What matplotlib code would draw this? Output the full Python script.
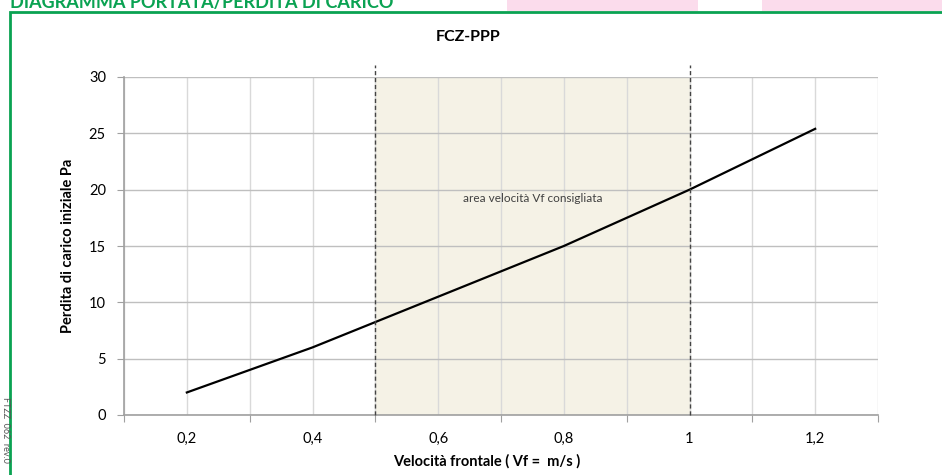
import matplotlib.pyplot as plt
from matplotlib.ticker import FixedLocator, NullFormatter
from matplotlib.patches import Rectangle

# data
velocita = [0.2, 0.4, 0.6, 0.8, 1.0, 1.2]
perdita = [2.0, 6.0, 10.5, 15.0, 20.0, 25.4]
x_labels = ["0,2", "0,4", "0,6", "0,8", "1", "1,2"]
y_ticks = [0, 5, 10, 15, 20, 25, 30]
vf_min, vf_max = 0.5, 1.0

plt.rcParams['font.family'] = ['Lato', 'DejaVu Sans']

fig = plt.figure(figsize=(9.42, 4.75), dpi=100)
W, H = 942.0, 475.0

# page decorations around the chart
fig.patches.append(Rectangle((507 / W, 1 - 11 / H), 191 / W, 11 / H, transform=fig.transFigure,
                             facecolor='#fbdcec', edgecolor='none'))
fig.patches.append(Rectangle((762 / W, 1 - 11 / H), 180 / W, 11 / H, transform=fig.transFigure,
                             facecolor='#fbdcec', edgecolor='none'))
fig.patches.append(Rectangle((10 / W, -0.05), 1.0, 1 - 12 / H + 0.05, transform=fig.transFigure,
                             facecolor='none', edgecolor='#0aa252', linewidth=2))
fig.text(10 / W, 1 - 8 / H, "DIAGRAMMA PORTATA/PERDITA DI CARICO", color='#0aa252',
         fontsize=13, fontweight='bold', ha='left', va='baseline')
fig.text(1 / W, 1 - 430 / H, "FTZZ  062  rev.0", rotation=270, fontsize=6.5, color='#555555',
         ha='left', va='center')

ax = fig.add_axes([124 / W, 60 / H, 754 / W, 338 / H])

ax.axvspan(vf_min, vf_max, color='#f5f2e6', zorder=0)
ax.plot(velocita, perdita, color='black', linewidth=1.6, zorder=3)
for v in (vf_min, vf_max):
    ax.plot([v, v], [0, 31.1], color='#444444', linestyle=(0, (3, 2)), linewidth=1,
            clip_on=False, zorder=4)
ax.text(0.75, 19.2, "area velocità Vf consigliata", fontsize=8.5, color='#404040',
        ha='center', va='center')

ax.set_xlim(0.1, 1.3)
ax.set_ylim(0, 30)
ax.set_yticks(y_ticks)
ax.xaxis.set_major_locator(FixedLocator([0.1, 0.3, 0.5, 0.7, 0.9, 1.1, 1.3]))
ax.xaxis.set_major_formatter(NullFormatter())
ax.xaxis.set_minor_locator(FixedLocator(velocita))
ax.set_xticklabels(x_labels, minor=True)
ax.tick_params(axis='x', which='minor', length=0, pad=12, labelsize=10.5)
ax.tick_params(axis='x', which='major', length=5, color='#a0a0a0')
ax.tick_params(axis='y', length=5, color='#a0a0a0', labelsize=10.5, pad=8)

ax.grid(axis='x', which='both', color='#d9d9d9', linewidth=1)
ax.grid(axis='y', color='#bfbfbf', linewidth=1)
ax.set_axisbelow(True)

for s in ['top', 'right']:
    ax.spines[s].set_visible(False)
for s in ['left', 'bottom']:
    ax.spines[s].set_color('#a0a0a0')
    ax.spines[s].set_linewidth(1.2)

ax.set_xlabel("Velocità frontale ( Vf =  m/s )", fontsize=10.5, fontweight='bold', labelpad=4)
ax.xaxis.set_label_coords((487 - 124) / 754, -0.115)
ax.set_ylabel("Perdita di carico iniziale Pa", fontsize=10.5, fontweight='bold', labelpad=10)
fig.text(468 / W, 1 - 37 / H, "FCZ-PPP", fontsize=11.5, fontweight='bold', ha='center', va='center')

fig.savefig('out.png', dpi=100)
